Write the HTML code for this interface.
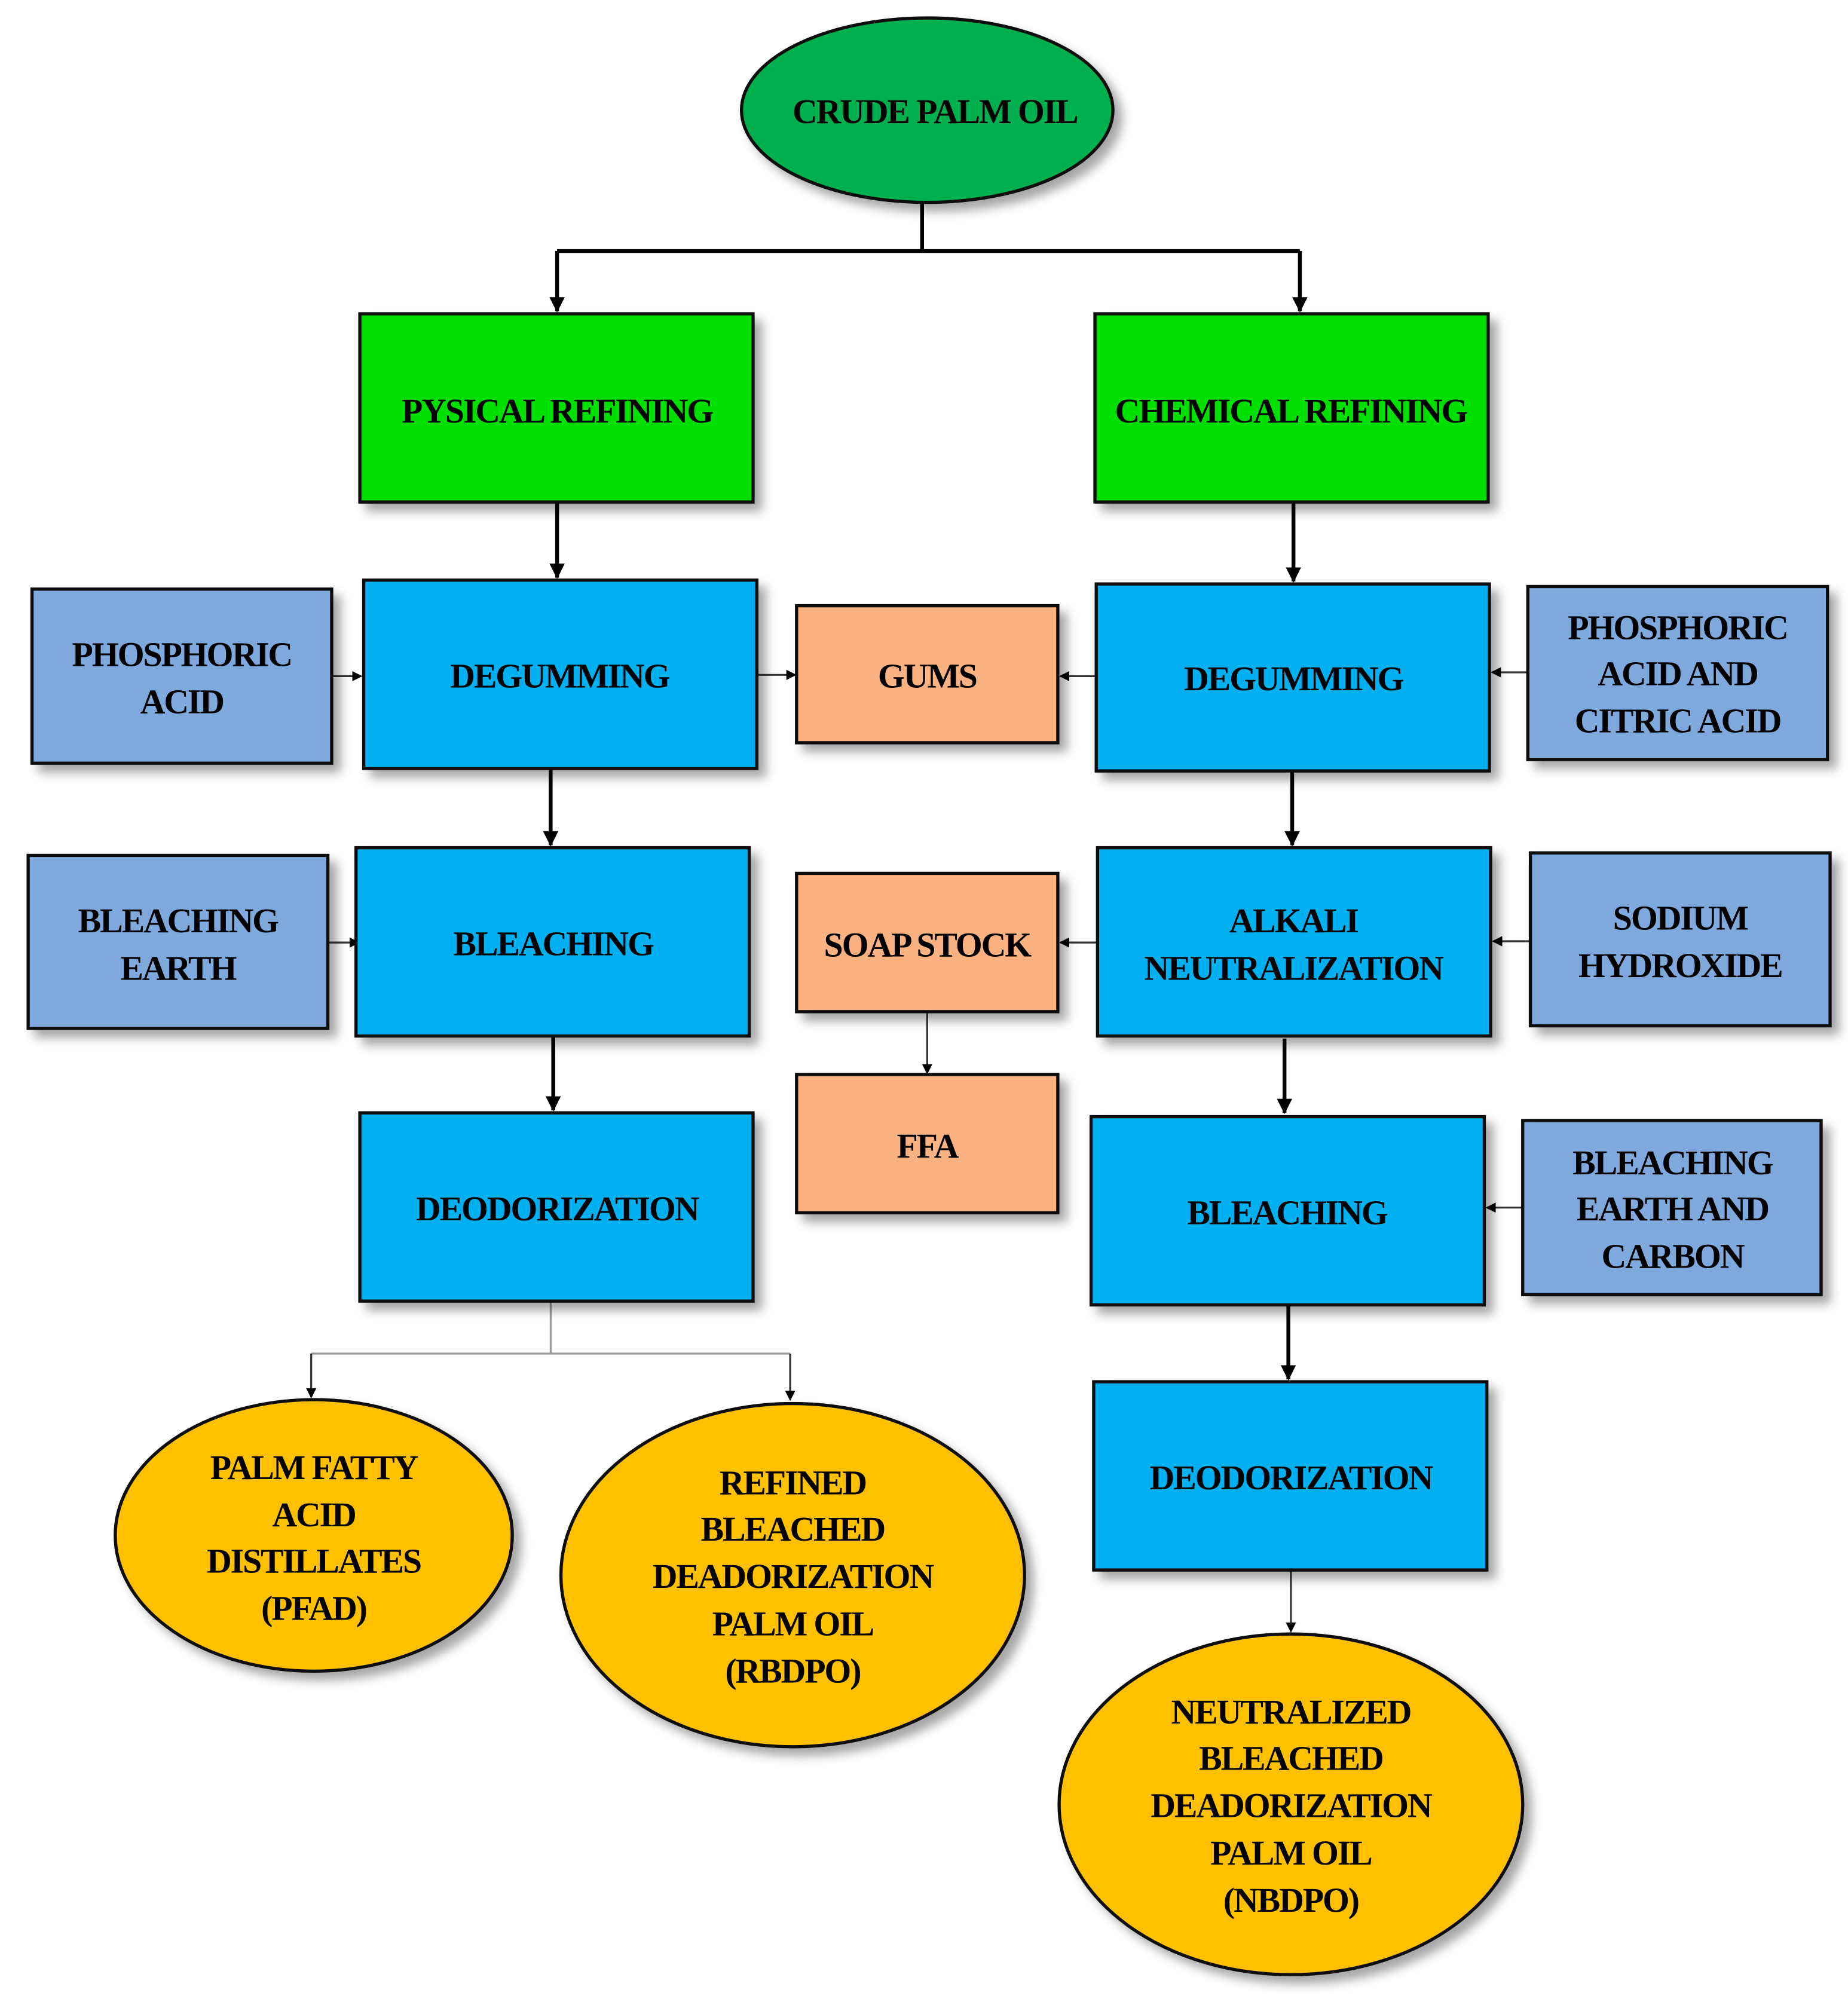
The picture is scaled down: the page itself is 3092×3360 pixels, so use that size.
<!DOCTYPE html>
<html><head><style>html,body{margin:0;padding:0;background:#fff}svg{display:block}</style></head>
<body>
<svg width="3092" height="3360" viewBox="0 0 1443 1568" xmlns="http://www.w3.org/2000/svg">
<defs>
<filter id="sh" x="-10%" y="-10%" width="130%" height="130%"><feDropShadow dx="6" dy="6" stdDeviation="4" flood-color="#000" flood-opacity="0.35"/></filter>
<marker id="ah" markerWidth="8" markerHeight="8" refX="7" refY="4" orient="auto" markerUnits="userSpaceOnUse"><path d="M0,0 L8,4 L0,8 Z" fill="#000"/></marker>
<marker id="as" markerWidth="12" markerHeight="12" refX="11" refY="6" orient="auto" markerUnits="userSpaceOnUse"><path d="M0,0 L12,6 L0,12 Z" fill="#000"/></marker>
</defs>
<style>
text{font-family:"Liberation Serif",serif;font-weight:bold;font-size:27px;text-anchor:middle;letter-spacing:-1px}
.b{stroke:#111;stroke-width:2.5}
</style>
<g fill="none" stroke="#000" stroke-width="3">
<path d="M720 158 V196 M435 196 H1015"/>
<path d="M435 196 V243" marker-end="url(#as)"/>
<path d="M1015 196 V243" marker-end="url(#as)"/>
<path d="M435 392 V451" marker-end="url(#as)"/>
<path d="M1010 392 V454" marker-end="url(#as)"/>
<path d="M430 600 V660" marker-end="url(#as)"/>
<path d="M1009 602 V660" marker-end="url(#as)"/>
<path d="M432 809 V867" marker-end="url(#as)"/>
<path d="M1003 811 V869" marker-end="url(#as)"/>
<path d="M1006 1019 V1077" marker-end="url(#as)"/>
</g>
<g fill="none" stroke="#333" stroke-width="1.5">
<path d="M259 528 H282" marker-end="url(#ah)"/>
<path d="M591 527 H621" marker-end="url(#ah)"/>
<path d="M856 528 H828" marker-end="url(#ah)"/>
<path d="M1193 525 H1165" marker-end="url(#ah)"/>
<path d="M256 736 H280" marker-end="url(#ah)"/>
<path d="M857 736 H828" marker-end="url(#ah)"/>
<path d="M1195 735 H1166" marker-end="url(#ah)"/>
<path d="M1189 943 H1161" marker-end="url(#ah)"/>
<path d="M724 790 V838" marker-end="url(#ah)"/>
<path d="M1008 1226 V1274" marker-end="url(#ah)"/>
</g>
<g fill="none" stroke="#999" stroke-width="1.5">
<path d="M430 1016 V1057 M243 1057 H617"/>
</g>
<g fill="none" stroke="#333" stroke-width="1.5">
<path d="M243 1057 V1091" marker-end="url(#ah)"/>
<path d="M617 1057 V1093" marker-end="url(#ah)"/>
</g>
<g class="b" filter="url(#sh)">
<ellipse cx="724" cy="86" rx="145" ry="72" fill="#00b050"/>
<rect x="281" y="245" width="307" height="147" fill="#00e000"/>
<rect x="855" y="245" width="307" height="147" fill="#00e000"/>
<rect x="284" y="453" width="307" height="147" fill="#00b0f0"/>
<rect x="856" y="456" width="307" height="146" fill="#00b0f0"/>
<rect x="25" y="460" width="234" height="136" fill="#7fa8dc"/>
<rect x="622" y="473" width="204" height="107" fill="#fbb282"/>
<rect x="1193" y="458" width="234" height="135" fill="#7fa8dc"/>
<rect x="278" y="662" width="307" height="147" fill="#00b0f0"/>
<rect x="22" y="668" width="234" height="135" fill="#7fa8dc"/>
<rect x="857" y="662" width="307" height="147" fill="#00b0f0"/>
<rect x="1195" y="666" width="234" height="135" fill="#7fa8dc"/>
<rect x="622" y="682" width="204" height="108" fill="#fbb282"/>
<rect x="622" y="839" width="204" height="108" fill="#fbb282"/>
<rect x="281" y="869" width="307" height="147" fill="#00b0f0"/>
<rect x="852" y="872" width="307" height="147" fill="#00b0f0"/>
<rect x="1189" y="875" width="233" height="136" fill="#7fa8dc"/>
<rect x="854" y="1079" width="307" height="147" fill="#00b0f0"/>
<ellipse cx="245" cy="1199" rx="155" ry="106" fill="#ffc000"/>
<ellipse cx="619" cy="1230" rx="181" ry="134" fill="#ffc000"/>
<ellipse cx="1008" cy="1409" rx="181" ry="133" fill="#ffc000"/>
</g>
<g fill="#000">
<text x="730" y="96">CRUDE PALM OIL</text>
<text x="435" y="330">PYSICAL REFINING</text>
<text x="1008" y="330">CHEMICAL REFINING</text>
<text x="437" y="537">DEGUMMING</text>
<text x="1010" y="539">DEGUMMING</text>
<text x="142" y="520">PHOSPHORIC</text><text x="142" y="557">ACID</text>
<text x="724" y="537">GUMS</text>
<text x="1310" y="499">PHOSPHORIC</text><text x="1310" y="535">ACID AND</text><text x="1310" y="572">CITRIC ACID</text>
<text x="432" y="746">BLEACHING</text>
<text x="139" y="728">BLEACHING</text><text x="139" y="765">EARTH</text>
<text x="1010" y="728">ALKALI</text><text x="1010" y="765">NEUTRALIZATION</text>
<text x="1312" y="726">SODIUM</text><text x="1312" y="763">HYDROXIDE</text>
<text x="724" y="747">SOAP STOCK</text>
<text x="724" y="904">FFA</text>
<text x="435" y="953">DEODORIZATION</text>
<text x="1005" y="956">BLEACHING</text>
<text x="1306" y="917">BLEACHING</text><text x="1306" y="953">EARTH AND</text><text x="1306" y="990">CARBON</text>
<text x="1008" y="1163">DEODORIZATION</text>
<text x="245" y="1155">PALM FATTY</text><text x="245" y="1192">ACID</text><text x="245" y="1228">DISTILLATES</text><text x="245" y="1265">(PFAD)</text>
<text x="619" y="1167">REFINED</text><text x="619" y="1203">BLEACHED</text><text x="619" y="1240">DEADORIZATION</text><text x="619" y="1277">PALM OIL</text><text x="619" y="1314">(RBDPO)</text>
<text x="1008" y="1346">NEUTRALIZED</text><text x="1008" y="1382">BLEACHED</text><text x="1008" y="1419">DEADORIZATION</text><text x="1008" y="1456">PALM OIL</text><text x="1008" y="1493">(NBDPO)</text>
</g>
</svg>
</body></html>
